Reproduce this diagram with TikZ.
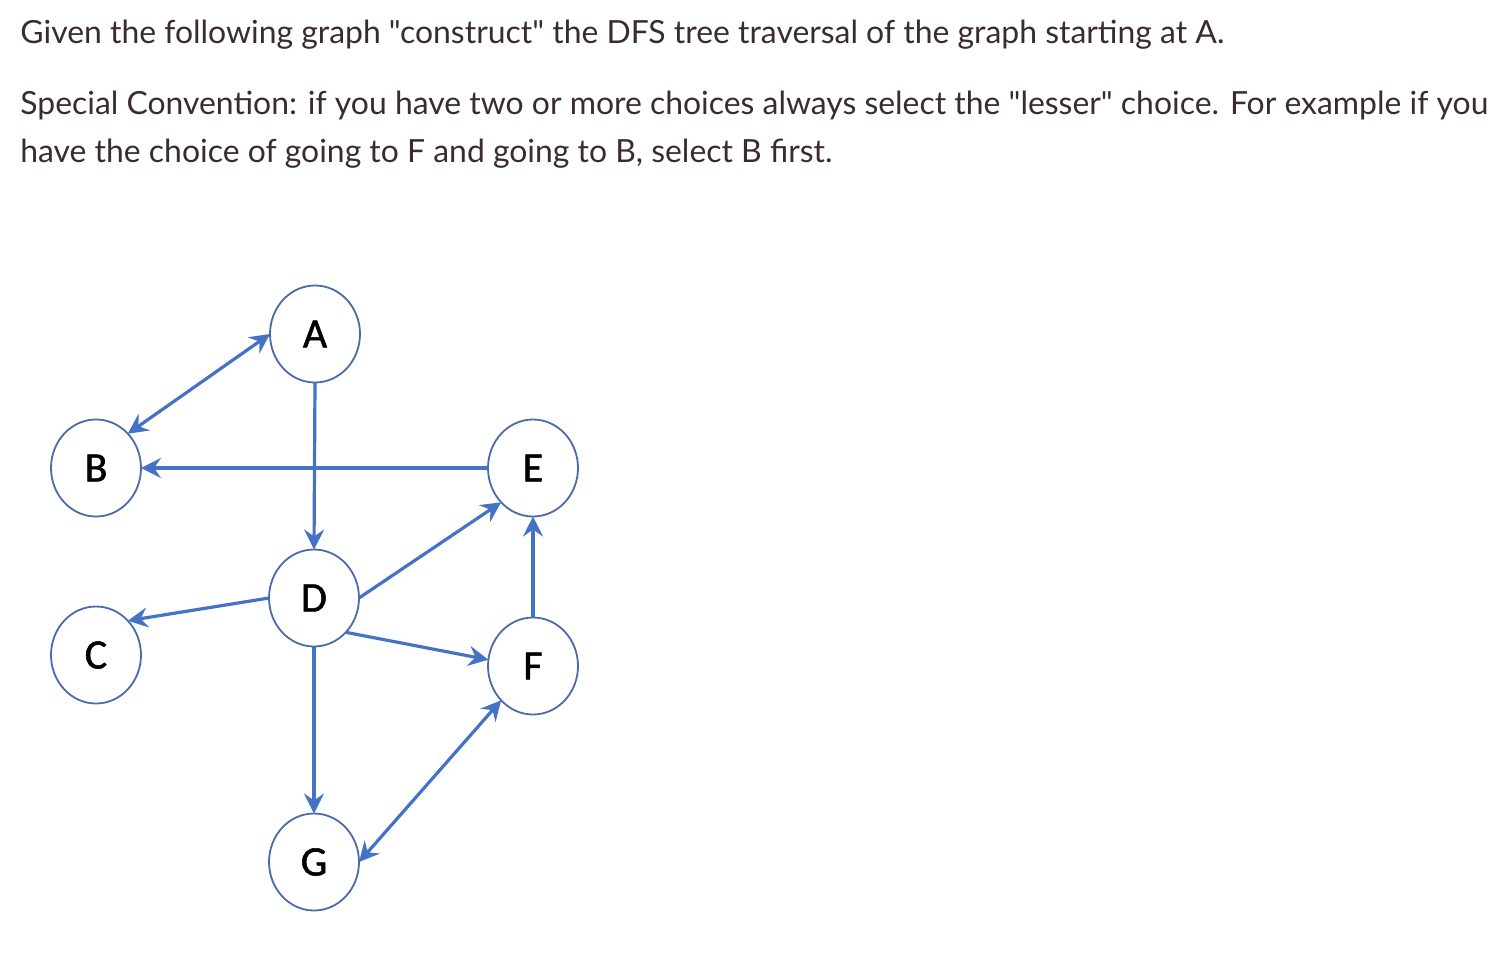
\documentclass[tikz,border=0pt]{standalone}
\usepackage{fontspec}
\setmainfont{Lato}[Ligatures=TeXOff]
\newfontfamily\nodefont{Carlito}[FakeBold=1.2]
\usetikzlibrary{arrows.meta,shapes.geometric}
\definecolor{txt}{HTML}{3A2C2E}
\definecolor{edge}{HTML}{4472C4}
\definecolor{ring}{HTML}{4A6BA8}
\begin{document}
\begin{tikzpicture}[x=0.5pt,y=-0.5pt,
  vtx/.style={ellipse,draw=ring,line width=0.9pt,fill=white,minimum width=45pt,minimum height=48.5pt,inner sep=0pt,outer sep=0pt,font=\nodefont\fontsize{21}{24}\selectfont,text=black},
  tip/.tip={Stealth[length=10pt,width=10pt,inset=3.5pt]},
  arr/.style={draw=edge,line width=1.6pt,-tip},
  darr/.style={draw=edge,line width=1.6pt,tip-tip},
  line/.style={anchor=base west,inner sep=0pt,text=txt,font=\fontsize{15.95}{18}\selectfont}]
\useasboundingbox (0,0) rectangle (1507,954);
\node[line] (t1) at (20,43) {Given the following graph "construct" the DFS tree traversal of the graph starting at A.};
\node[line] (t2) at (20,114) {Special Convention: if you have two or more choices always select the "lesser" choice. For example if you};
\node[line] (t3) at (20,162) {have the choice of going to F and going to B, select B first.};
\node[vtx] (A) at (315,334) {A};
\node[vtx] (B) at (96,468) {B};
\node[vtx] (E) at (533,468) {E};
\node[vtx] (D) at (314,598) {D};
\node[vtx] (C) at (96,655) {C};
\node[vtx] (F) at (533,666) {F};
\node[vtx] (G) at (314,862) {G};
\draw[darr] (A.west) -- (B.north east);
\draw[arr] (E.west) -- (B.east);
\draw[arr] (A.south) -- (D.north);
\draw[arr] (D.east) -- (E.south west);
\draw[arr] (D.west) -- (C.north east);
\draw[arr] (D.south east) -- (F.172);
\draw[arr] (D.south) -- (G.north);
\draw[arr] (F.north) -- (E.south);
\draw[darr] (F.south west) -- (G.east);
\end{tikzpicture}
\end{document}
